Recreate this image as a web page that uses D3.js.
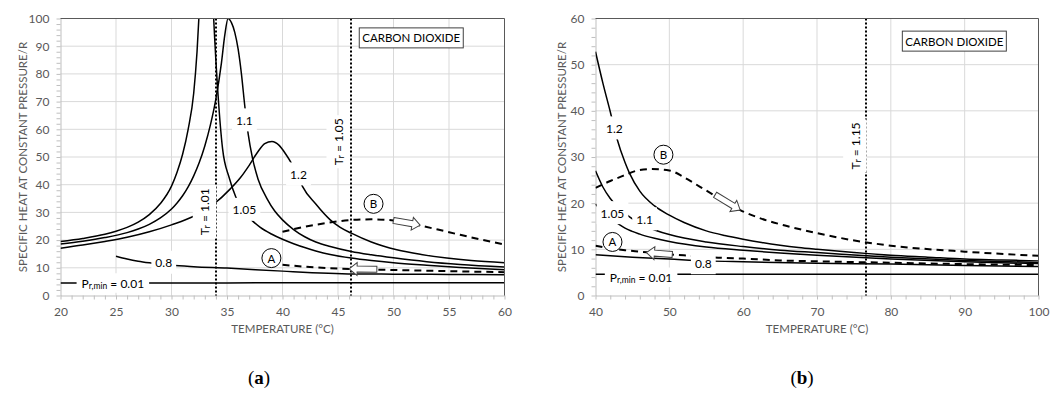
<!DOCTYPE html>
<html>
<head>
<meta charset="utf-8">
<script src="https://cdn.jsdelivr.net/npm/d3@7"></script>
<style>
  html, body { margin: 0; padding: 0; background: #fff; }
  svg { display: block; }
</style>
</head>
<body>
<svg id="chart" width="1062" height="393"></svg>
<script>
// ---------- Panel (a): 20–60 °C ----------
const a_xTicks = [20, 25, 30, 35, 40, 45, 50, 55, 60];
const a_yTicks = [0, 10, 20, 30, 40, 50, 60, 70, 80, 90, 100];

// [temperature °C, cp/R]
const a_pr001 = [[20, 4.5], [30, 4.5], [40, 4.6], [50, 4.6], [60, 4.6]];
const a_pr08 = [[25, 14.2], [26, 13.2], [27, 12.4], [28, 11.8], [29, 11.3], [30, 10.9], [32, 10.4],
  [35, 9.9], [40, 8.8], [46.4, 7.8], [50, 7.7], [55, 7.6], [60, 7.5]];
const a_pr105 = [[20, 19.5], [22, 20.6], [24, 22.1], [25, 23.2], [26, 24.6], [27, 26.5], [28, 29.2],
  [29, 33.2], [30, 39.5], [30.5, 44.5], [31, 51], [31.5, 60], [32, 73], [32.3, 88], [32.6, 110],
  [33.0, 150], [33.3, 150], [33.6, 118], [33.8, 100], [34.2, 72], [34.6, 53], [35.2, 42.5],
  [35.8, 35.5], [36.5, 30.5], [37.2, 27.3], [38, 24.6], [39, 22.2], [40, 20.3], [41, 18.7],
  [42, 17.3], [43, 16.1], [44.3, 14.8], [46.2, 13.5], [48, 12.6], [50, 11.8], [53, 10.9],
  [56, 10.1], [60, 9.3]];
const a_pr11 = [[20, 18.6], [22, 19.6], [24, 20.9], [26, 22.7], [27, 24.0], [28, 25.7], [29, 28.0],
  [30, 31.2], [30.5, 33.4], [31, 36.0], [31.5, 39.2], [32, 43.2], [32.5, 48], [33, 54], [33.5, 61.5],
  [34, 71], [34.5, 84], [34.8, 94], [35.1, 100], [35.4, 98.5], [35.7, 95], [36, 89], [36.3, 80],
  [36.6, 68.5], [36.9, 58.5], [37.3, 49.5], [37.8, 42], [38.6, 35], [39.3, 30.5], [40, 27.3],
  [41, 23.8], [42, 21.2], [43, 19.3], [44.3, 17.7], [46.2, 15.9], [48, 14.7], [50, 13.6],
  [53, 12.2], [56, 11.2], [60, 10.3]];
const a_pr12 = [[20, 17.1], [22, 18.2], [24, 19.5], [26, 21.0], [28, 23.0], [30, 25.5], [32, 28.6],
  [33.9, 33.3], [35.3, 38.5], [36.2, 42.5], [37, 47], [37.8, 52], [38.4, 54.8], [39.05, 55.6],
  [39.7, 54.2], [40.3, 51], [40.8, 47.8], [41.3, 44], [41.8, 39.4], [43, 33], [44.3, 27.3],
  [45.2, 24.6], [46.2, 22.5], [48, 19.3], [50.3, 16.5], [52.5, 14.8], [54.8, 13.5], [57, 12.6],
  [60, 11.8]];
const a_pathA = [[40, 11.1], [42, 10.4], [44, 9.9], [46, 9.6], [48, 9.4], [50, 9.2], [55, 8.8], [60, 8.4]];
const a_pathB = [[40, 23.0], [42, 24.8], [44, 26.2], [46, 27.2], [48, 27.5], [50, 27.1], [52, 25.6],
  [54, 23.8], [56, 21.9], [58, 20.1], [60, 18.4]];

// isotherm markers: reduced temperature and its value in °C
const a_trValues = ["1.01", "1.05"];
const a_trTemps = [34.02, 46.19];
const a_trLabelAt = [[32.95, 30.2], [45.0, 55.5]];

const a_curveLabels = ["1.1", "1.2", "1.05", "0.8"];
const a_curveLabelAt = [[36.57, 63.4], [41.44, 43.9], [36.57, 31.1], [29.3, 12.0]];
const a_minLabelAt = [21.9, 4.6];
const a_circleNames = ["A", "B"];
const a_circleAt = [[39.0, 13.5], [48.2, 33.1]];
// block arrows: [tail, tip]
const a_arrows = [[[48.5, 9.5], [46.0, 9.6]], [[50.0, 27.1], [52.4, 25.4]]];
const a_boxAt = [51.6, 93];

// ---------- Panel (b): 40–100 °C ----------
const b_xTicks = [40, 50, 60, 70, 80, 90, 100];
const b_yTicks = [0, 10, 20, 30, 40, 50, 60];

const b_pr001 = [[40, 4.6], [70, 4.6], [100, 4.6]];
const b_pr08 = [[40, 8.8], [45, 8.3], [50, 7.9], [55, 7.5], [60, 7.3], [70, 7.0], [80, 6.8], [90, 6.5], [100, 6.3]];
const b_pr105 = [[40, 19.8], [41, 18.1], [42, 16.7], [43, 15.6], [44, 14.6], [46, 13.3], [48, 12.4],
  [50, 11.7], [55, 10.5], [60, 9.8], [65, 9.2], [70, 8.7], [80, 7.9], [90, 7.3], [100, 6.9]];
const b_pr11 = [[40, 27.0], [41, 23.5], [42, 21.0], [43, 19.2], [44, 17.8], [45, 16.6], [46, 15.6],
  [47, 14.8], [48, 14.2], [50, 13.2], [55, 11.6], [60, 10.6], [65, 9.8], [70, 9.3], [80, 8.3],
  [90, 7.6], [100, 7.15]];
const b_pr12 = [[40, 52.8], [41, 46], [42, 39.8], [42.9, 34], [44, 28.8], [44.6, 26.5], [46, 22.6],
  [48, 19.4], [50, 17.4], [52, 15.8], [55, 14.0], [57.5, 13.0], [60, 12.2], [62.5, 11.5],
  [65, 10.9], [67.5, 10.4], [70, 10.0], [75, 9.3], [80, 8.7], [85, 8.3], [90, 7.9], [95, 7.7],
  [100, 7.5]];
const b_pathA = [[40, 10.8], [42, 10.2], [44, 9.8], [46, 9.5], [48, 9.2], [50, 8.9], [53, 8.6],
  [56.6, 8.2], [60, 8.0], [65, 7.6], [70, 7.4], [80, 7.1], [90, 6.8], [100, 6.6]];
const b_pathB = [[40, 23.3], [42, 24.8], [43.7, 25.9], [45.5, 27.0], [47.5, 27.4], [50, 27.1],
  [52, 25.6], [54.1, 23.6], [56.2, 21.6], [59.6, 18.5], [62, 16.9], [66.3, 14.9], [70, 13.5],
  [76.7, 11.5], [80, 10.8], [90, 9.5], [100, 8.6]];

const b_trValues = ["1.15"];
const b_trTemps = [76.6];
const b_trLabelAt = [[75.1, 32.4]];

const b_curveLabels = ["1.2", "1.05", "1.1", "0.8"];
const b_curveLabelAt = [[42.55, 36.3], [42.3, 17.95], [46.65, 16.6], [54.6, 7.1]];
const b_minLabelAt = [41.94, 4.0];
const b_circleNames = ["A", "B"];
const b_circleAt = [[42.3, 11.6], [49.2, 30.5]];
const b_arrows = [[[50.4, 8.9], [46.9, 9.3]], [[56.2, 21.8], [59.6, 18.5]]];
const b_boxAt = [88.6, 55.1];

const FONT = "Lato, 'Open Sans', sans-serif";
const svg = d3.select("#chart");

const panels = [
  {
    id: "a", caption: "a", captionX: 259,
    x: d3.scaleLinear([20, 60], [60.5, 504.5]),
    y: d3.scaleLinear([0, 100], [295.5, 18.5]),
    xTicks: a_xTicks, yTicks: a_yTicks, xMinorStep: 1, yMinorStep: 2,
    solid: [a_pr001, a_pr08, a_pr105, a_pr11, a_pr12],
    dashed: [a_pathA, a_pathB],
    trValues: a_trValues, trTemps: a_trTemps, trLabelAt: a_trLabelAt,
    curveLabels: a_curveLabels, curveLabelAt: a_curveLabelAt, minLabelAt: a_minLabelAt,
    circleNames: a_circleNames, circleAt: a_circleAt, arrows: a_arrows, boxAt: a_boxAt,
    titleOffset: 38
  },
  {
    id: "b", caption: "b", captionX: 802,
    x: d3.scaleLinear([40, 100], [595.5, 1038.5]),
    y: d3.scaleLinear([0, 60], [295.5, 18.5]),
    xTicks: b_xTicks, yTicks: b_yTicks, xMinorStep: 2, yMinorStep: 2,
    solid: [b_pr001, b_pr08, b_pr105, b_pr11, b_pr12],
    dashed: [b_pathA, b_pathB],
    trValues: b_trValues, trTemps: b_trTemps, trLabelAt: b_trLabelAt,
    curveLabels: b_curveLabels, curveLabelAt: b_curveLabelAt, minLabelAt: b_minLabelAt,
    circleNames: b_circleNames, circleAt: b_circleAt, arrows: b_arrows, boxAt: b_boxAt,
    titleOffset: 34
  }
];

// Text on a white backing box; parts = [{t, sub}] so subscripts can be mixed in.
function boxedText(parent, x, y, parts, opt = {}) {
  const g = parent.append("g")
    .attr("transform", `translate(${x},${y}) rotate(${opt.rotate || 0})`);
  const rect = g.append("rect").attr("fill", "#fff");
  const text = g.append("text")
    .attr("font-family", FONT)
    .attr("font-size", opt.size || 12)
    .attr("fill", "#000")
    .attr("text-anchor", opt.anchor || "middle")
    .attr("dominant-baseline", "central");
  let shifted = 0;
  parts.forEach(p => {
    const dy = p.sub ? 3 - shifted : -shifted;
    shifted = p.sub ? 3 : 0;
    text.append("tspan")
      .attr("dy", dy)
      .attr("font-size", p.sub ? 8.5 : null)
      .text(p.t);
  });
  const bb = text.node().getBBox();
  const px = opt.padX == null ? 4 : opt.padX, py = opt.padY == null ? 3 : opt.padY;
  rect.attr("x", bb.x - px).attr("y", bb.y - py)
    .attr("width", bb.width + 2 * px).attr("height", bb.height + 2 * py);
  return g;
}

// Hollow block arrow from tail to tip (pixel space).
function blockArrow(parent, p0, p1) {
  const dx = p1[0] - p0[0], dy = p1[1] - p0[1];
  const L = Math.hypot(dx, dy), ang = Math.atan2(dy, dx) * 180 / Math.PI;
  const h = 3, hw = 6.5, hl = 8;
  const pts = [[0, -h], [L - hl, -h], [L - hl, -hw], [L, 0], [L - hl, hw], [L - hl, h], [0, h]];
  parent.append("path")
    .attr("transform", `translate(${p0[0]},${p0[1]}) rotate(${ang})`)
    .attr("d", d3.line()(pts) + "Z")
    .attr("fill", "#fff").attr("stroke", "#404040").attr("stroke-width", 1);
}

panels.forEach(p => {
  const g = svg.append("g");
  const [xl, xr] = p.x.range();
  const [yb, yt] = p.y.range();
  const xd = p.x.domain(), yd = p.y.domain();

  // gridlines
  g.append("g").selectAll("line").data(p.yTicks.slice(1)).join("line")
    .attr("x1", xl).attr("x2", xr)
    .attr("y1", d => p.y(d)).attr("y2", d => p.y(d))
    .attr("stroke", "#d9d9d9").attr("stroke-width", 1);
  g.append("g").selectAll("line").data(p.xTicks.slice(1)).join("line")
    .attr("x1", d => p.x(d)).attr("x2", d => p.x(d))
    .attr("y1", yt).attr("y2", yb)
    .attr("stroke", "#d9d9d9").attr("stroke-width", 1);

  // minor tick marks + axis lines
  const xMinor = d3.range(xd[0], xd[1] + 1e-9, p.xMinorStep);
  const yMinor = d3.range(yd[0], yd[1] + 1e-9, p.yMinorStep);
  g.append("g").attr("transform", `translate(0,${yb})`)
    .call(d3.axisBottom(p.x).tickValues(xMinor).tickSize(4).tickSizeOuter(0).tickFormat(""))
    .call(a => a.selectAll("line,path").attr("stroke", "#bfbfbf"));
  g.append("g").attr("transform", `translate(${xl},0)`)
    .call(d3.axisLeft(p.y).tickValues(yMinor).tickSize(4).tickSizeOuter(0).tickFormat(""))
    .call(a => a.selectAll("line,path").attr("stroke", "#bfbfbf"));

  // tick labels
  g.append("g").attr("transform", `translate(0,${yb})`)
    .call(d3.axisBottom(p.x).tickValues(p.xTicks).tickSize(0).tickPadding(12))
    .call(a => {
      a.select(".domain").remove();
      a.attr("font-family", FONT).attr("font-size", 12);
      a.selectAll("text").attr("fill", "#595959");
    });
  g.append("g").attr("transform", `translate(${xl},0)`)
    .call(d3.axisLeft(p.y).tickValues(p.yTicks).tickSize(0).tickPadding(11))
    .call(a => {
      a.select(".domain").remove();
      a.attr("font-family", FONT).attr("font-size", 12);
      a.selectAll("text").attr("fill", "#595959");
    });

  // axis titles
  g.append("text")
    .attr("x", (xl + xr) / 2).attr("y", 333)
    .attr("text-anchor", "middle")
    .attr("font-family", FONT).attr("font-size", 11.5).attr("fill", "#595959")
    .text("TEMPERATURE (°C)");
  g.append("text")
    .attr("transform", `translate(${xl - p.titleOffset},${(yt + yb) / 2}) rotate(-90)`)
    .attr("text-anchor", "middle").attr("dominant-baseline", "central")
    .attr("font-family", FONT).attr("font-size", 11.5).attr("fill", "#595959")
    .text("SPECIFIC HEAT AT CONSTANT PRESSURE/R");

  // curves, clipped to the plot area
  const clipId = "clip-" + p.id;
  svg.append("clipPath").attr("id", clipId)
    .append("rect").attr("x", xl).attr("y", yt).attr("width", xr - xl).attr("height", yb - yt);
  const line = d3.line().x(d => p.x(d[0])).y(d => p.y(d[1])).curve(d3.curveMonotoneX);
  const curves = g.append("g").attr("clip-path", `url(#${clipId})`);
  curves.selectAll("path.solid").data(p.solid).join("path")
    .attr("class", "solid")
    .attr("d", line).attr("fill", "none")
    .attr("stroke", "#000").attr("stroke-width", 1.5);
  curves.selectAll("path.dashed").data(p.dashed).join("path")
    .attr("class", "dashed")
    .attr("d", line).attr("fill", "none")
    .attr("stroke", "#000").attr("stroke-width", 2).attr("stroke-dasharray", "7,5");

  // reduced-temperature isotherms
  p.trTemps.forEach(t => {
    const x = Math.round(p.x(t));
    g.append("line")
      .attr("x1", x).attr("x2", x).attr("y1", yt).attr("y2", yb)
      .attr("stroke", "#000").attr("stroke-width", 2).attr("stroke-dasharray", "2,2");
  });

  // arrows along the process paths
  p.arrows.forEach(([t0, t1]) => {
    blockArrow(g, [p.x(t0[0]), p.y(t0[1])], [p.x(t1[0]), p.y(t1[1])]);
  });

  // path markers A / B
  p.circleNames.forEach((name, i) => {
    const cx = p.x(p.circleAt[i][0]), cy = p.y(p.circleAt[i][1]);
    g.append("circle").attr("cx", cx).attr("cy", cy).attr("r", 9.5)
      .attr("fill", "#fff").attr("stroke", "#000").attr("stroke-width", 1);
    g.append("text").attr("x", cx).attr("y", cy)
      .attr("text-anchor", "middle").attr("dominant-baseline", "central")
      .attr("font-family", FONT).attr("font-size", 11.5).attr("fill", "#000")
      .text(name);
  });

  // isobar labels
  p.curveLabels.forEach((lab, i) => {
    boxedText(g, p.x(p.curveLabelAt[i][0]), p.y(p.curveLabelAt[i][1]), [{ t: lab }], { padX: 4, padY: 4 });
  });
  boxedText(g, p.x(p.minLabelAt[0]), p.y(p.minLabelAt[1]),
    [{ t: "P" }, { t: "r,min", sub: true }, { t: " = 0.01" }],
    { anchor: "start", padX: 5, padY: 2 });

  // isotherm labels
  p.trValues.forEach((v, i) => {
    boxedText(g, p.x(p.trLabelAt[i][0]), p.y(p.trLabelAt[i][1]),
      [{ t: "T" }, { t: "r", sub: true }, { t: " = " + v }],
      { rotate: -90, padX: 3, padY: 4 });
  });

  // fluid name box
  const bx = p.x(p.boxAt[0]), by = p.y(p.boxAt[1]);
  g.append("rect").attr("x", bx - 52).attr("y", by - 10).attr("width", 104).attr("height", 20)
    .attr("fill", "#fff").attr("stroke", "#404040").attr("stroke-width", 1);
  g.append("text").attr("x", bx).attr("y", by)
    .attr("text-anchor", "middle").attr("dominant-baseline", "central")
    .attr("font-family", FONT).attr("font-size", 11.5).attr("fill", "#000")
    .text("CARBON DIOXIDE");

  // plot border (top and right)
  g.append("path")
    .attr("d", `M${xl},${yt}H${xr}V${yb}`)
    .attr("fill", "none").attr("stroke", "#595959").attr("stroke-width", 1);

  // sub-figure caption
  const cap = svg.append("text")
    .attr("x", p.captionX).attr("y", 384)
    .attr("text-anchor", "middle")
    .attr("font-family", "'Liberation Serif', 'DejaVu Serif', serif")
    .attr("font-size", 19).attr("fill", "#000");
  cap.append("tspan").text("(");
  cap.append("tspan").attr("font-weight", "bold").text(p.caption);
  cap.append("tspan").text(")");
});
</script>
</body>
</html>
